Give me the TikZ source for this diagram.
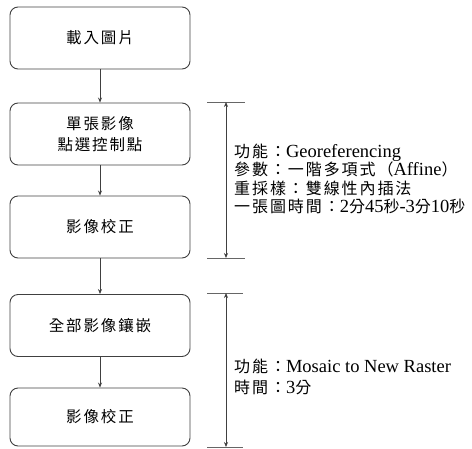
\documentclass[tikz,border=0pt]{standalone}
\usepackage{fontspec}
\setmainfont{Liberation Serif}
\newfontfamily\cjk[LetterSpace=12]{Noto Sans CJK TC}
\usetikzlibrary{arrows.meta}
\newcommand{\C}[1]{{\cjk\fontsize{16}{19}\selectfont #1}}
\tikzset{
  stepbox/.style={draw=black!75, line width=0.9pt, rounded corners=8pt, minimum width=180pt, minimum height=62pt, align=center, inner sep=0pt, font=\cjk\fontsize{15.5}{21}\selectfont},
  flow/.style={draw=black!75, line width=0.7pt, -{Stealth[length=5pt,width=4pt]}},
  dim/.style={draw=black!75, line width=0.7pt, {Stealth[length=5pt,width=4pt]}-{Stealth[length=5pt,width=4pt]}},
  tick/.style={draw=black!60, line width=0.7pt},
  note/.style={anchor=west, align=left, inner sep=0pt, font=\fontsize{18.5}{18.5}\selectfont}
}
\begin{document}
\begin{tikzpicture}[x=1pt,y=-1pt]
\useasboundingbox (0,0) rectangle (472,448);
\node[stepbox] (b1) at (100,38) {載入圖片};
\node[stepbox] (b2) at (100,134) {單張影像\\點選控制點};
\node[stepbox] (b3) at (100,227) {影像校正};
\node[stepbox] (b4) at (100,325.5) {全部影像鑲嵌};
\node[stepbox] (b5) at (100,417) [minimum height=58pt] {影像校正};
\draw[flow] (b1) -- (b2);
\draw[flow] (b2) -- (b3);
\draw[flow] (b3) -- (b4);
\draw[flow] (b4) -- (b5);
% bracket 1
\coordinate (a1l) at (207,102); \coordinate (a1r) at (245,102);
\coordinate (z1l) at (207,258); \coordinate (z1r) at (245,258);
\coordinate (a1) at (226,102); \coordinate (z1) at (226,258);
\draw[tick] (a1l) -- (a1r);
\draw[tick] (z1l) -- (z1r);
\draw[dim] (a1) -- (z1);
% bracket 2
\coordinate (a2l) at (207,293); \coordinate (a2r) at (243,293);
\coordinate (z2l) at (207,447); \coordinate (z2r) at (243,447);
\coordinate (a2) at (226,293); \coordinate (z2) at (226,447);
\draw[tick] (a2l) -- (a2r);
\draw[tick] (z2l) -- (z2r);
\draw[dim] (a2) -- (z2);
\node[note] (n1) at (234,179) {\C{功能：}Georeferencing\\\C{參數：一階多項式（}Affine\C{）}\\\C{重採樣：雙線性內插法}\\\C{一張圖時間：}2\C{分}45\C{秒}-3\C{分}10\C{秒}};
\node[note] (n2) at (234,377) {\C{功能：}Mosaic to New Raster\\[3pt]\C{時間：}3\C{分}};
\end{tikzpicture}
\end{document}
